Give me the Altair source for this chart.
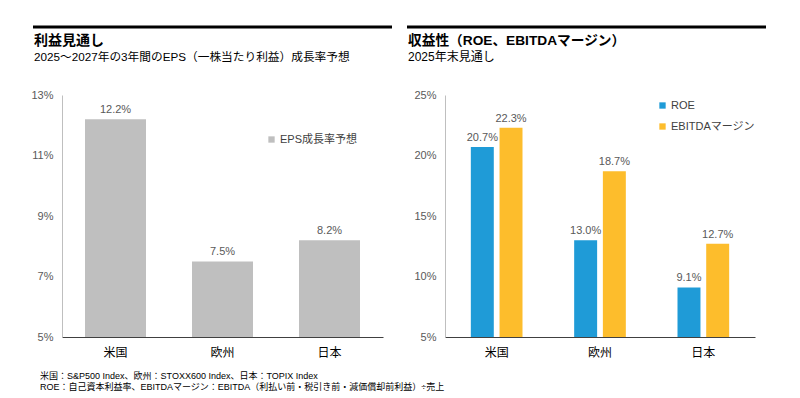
import altair as alt
import pandas as pd

# ---- data ----
regions = ["米国", "欧州", "日本"]
eps_growth = [12.2, 7.5, 8.2]
roe = [20.7, 13.0, 9.1]
ebitda_margin = [22.3, 18.7, 12.7]
eps_series = ["EPS成長率予想"]
profit_series = ["ROE", "EBITDAマージン"]
eps_ticks = [5, 7, 9, 11, 13]
profit_ticks = [5, 10, 15, 20, 25]
left_title = "利益見通し"
left_subtitle = "2025～2027年の3年間のEPS（一株当たり利益）成長率予想"
right_title = "収益性（ROE、EBITDAマージン）"
right_subtitle = "2025年末見通し"
footnotes = [
    "米国：S&P500 Index、欧州：STOXX600 Index、日本：TOPIX Index",
    "ROE：自己資本利益率、EBITDAマージン：EBITDA（利払い前・税引き前・減価償却前利益）÷売上",
]

FONT = "Liberation Sans, Noto Sans CJK JP, sans-serif"
H = 388

df_eps = pd.DataFrame({"region": regions, "value": eps_growth,
                       "series": eps_series * len(regions)})
df_profit = pd.DataFrame({
    "region": regions * 2,
    "series": [profit_series[0]] * 3 + [profit_series[1]] * 3,
    "value": roe + ebitda_margin,
})
hdr_left = pd.DataFrame({"title": [left_title], "subtitle": [left_subtitle]})
hdr_right = pd.DataFrame({"title": [right_title], "subtitle": [right_subtitle]})
df_notes = pd.DataFrame({"l1": [footnotes[0]], "l2": [footnotes[1]]})

label_calc = "format(datum.value, '.1f') + '%'"

def x_axis(offset):
    return alt.Axis(orient="bottom", offset=offset, title=None, ticks=False,
                    labelPadding=10, labelFontSize=12, labelColor="#000000",
                    labelAngle=0, domainColor="#404040", grid=False)

def y_axis(offset, values):
    return alt.Axis(orient="left", offset=offset, values=values, title=None,
                    labelExpr="datum.value + '%'", ticks=False, grid=False,
                    labelPadding=9, domainColor="#BFBFBF", labelColor="#595959",
                    labelFontSize=11)

# ---- left panel ----
xl = alt.X("region:N", sort=regions,
           scale=alt.Scale(range=[54, 375], paddingInner=0.43, paddingOuter=0.215),
           axis=x_axis(329 - H))
yl = alt.Y("value:Q", scale=alt.Scale(domain=[eps_ticks[0], eps_ticks[-1]],
                                      range=[329, 87], zero=False, nice=False),
           axis=y_axis(-54, eps_ticks))
cl = alt.Color("series:N", scale=alt.Scale(domain=eps_series, range=["#BFBFBF"]),
               legend=alt.Legend(orient="none", legendX=258, legendY=126, title=None,
                                 symbolType="square", symbolSize=40, symbolStrokeWidth=0,
                                 labelFontSize=11, labelColor="#404040", labelOffset=3))

base_l = alt.Chart(df_eps).transform_calculate(label=label_calc)
left_bars = base_l.mark_bar().encode(x=xl, y=yl, y2=alt.datum(eps_ticks[0]), color=cl)
left_text = base_l.mark_text(dy=-4, baseline="bottom", fontSize=11,
                             color="#595959").encode(x=xl, y=yl, text="label:N")
left = alt.layer(left_bars, left_text)

# ---- right panel ----
xr = alt.X("region:N", sort=regions,
           scale=alt.Scale(range=[437, 747], paddingInner=0.5, paddingOuter=0.25),
           axis=x_axis(329 - H))
xo = alt.XOffset("series:N", sort=profit_series,
                 scale=alt.Scale(paddingInner=0.2, paddingOuter=0))
yr = alt.Y("value:Q", scale=alt.Scale(domain=[profit_ticks[0], profit_ticks[-1]],
                                      range=[329, 87], zero=False, nice=False),
           axis=y_axis(-437, profit_ticks))
cr = alt.Color("series:N", sort=profit_series,
               scale=alt.Scale(domain=profit_series, range=["#1F9BD7", "#FDBD2C"]),
               legend=alt.Legend(orient="none", legendX=649, legendY=92, title=None,
                                 symbolType="square", symbolSize=40, symbolStrokeWidth=0,
                                 labelFontSize=11, labelColor="#404040", labelOffset=3,
                                 rowPadding=9))

base_r = alt.Chart(df_profit).transform_calculate(label=label_calc)
right_bars = base_r.mark_bar().encode(x=xr, xOffset=xo, y=yr,
                                      y2=alt.datum(profit_ticks[0]), color=cr)
right_text = base_r.mark_text(dy=-4, baseline="bottom", fontSize=11,
                              color="#595959").encode(x=xr, xOffset=xo, y=yr, text="label:N")
right = alt.layer(right_bars, right_text)

# ---- headers / notes ----
def header(df, x0, x1, tsize, ssize):
    rule = alt.Chart(df).mark_rule(strokeWidth=3, color="#000000").encode(
        x=alt.value(x0), x2=alt.value(x1), y=alt.value(19))
    t = alt.Chart(df).mark_text(align="left", baseline="middle", fontSize=tsize,
                                fontWeight="bold", color="#000000").encode(
        x=alt.value(x0 + 1), y=alt.value(33), text="title:N")
    s = alt.Chart(df).mark_text(align="left", baseline="middle", fontSize=ssize,
                                color="#000000").encode(
        x=alt.value(x0 + 1), y=alt.value(49), text="subtitle:N")
    return [rule, t, s]

notes = [
    alt.Chart(df_notes).mark_text(align="left", baseline="middle", fontSize=9,
                                  color="#000000").encode(
        x=alt.value(32), y=alt.value(368), text="l1:N"),
    alt.Chart(df_notes).mark_text(align="left", baseline="middle", fontSize=9,
                                  color="#000000").encode(
        x=alt.value(32), y=alt.value(379), text="l2:N"),
]

chart = alt.layer(
    left, right,
    *header(hdr_left, 25, 384, 14, 11.7),
    *header(hdr_right, 399, 758, 13.7, 12),
    *notes
).resolve_scale(
    x="independent", y="independent", color="independent", xOffset="independent"
).resolve_axis(
    x="independent", y="independent"
).resolve_legend(
    color="independent"
).properties(
    width=784, height=H, padding=0,
    autosize=alt.AutoSizeParams(type="none"),
).configure(font=FONT).configure_view(stroke=None)

chart.save("out.html", embed_options={"renderer": "svg", "actions": False})
